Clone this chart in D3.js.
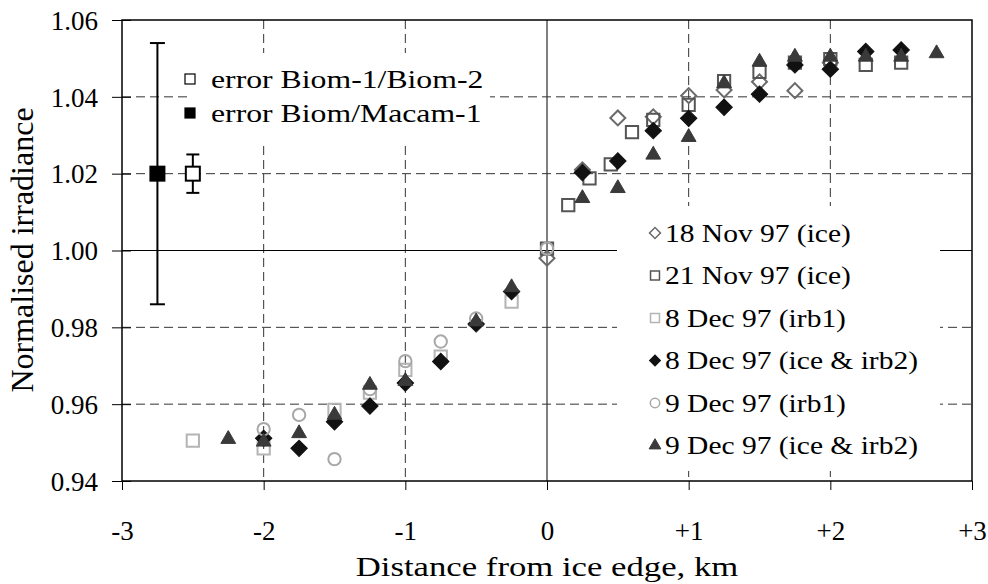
<!DOCTYPE html>
<html>
<head>
<meta charset="utf-8">
<script src="https://cdn.jsdelivr.net/npm/d3@7"></script>
<style>
  body { margin: 0; background: #fff; }
  svg text { font-family: "Liberation Serif", "Times New Roman", serif; fill: #000; }
</style>
</head>
<body>
<div id="chart"></div>
<script>
// ---- data ----
const xTicks = [-3, -2, -1, 0, 1, 2, 3];
const xTickLabels = ['-3', '-2', '-1', '0', '+1', '+2', '+3'];
const yTicks = [0.94, 0.96, 0.98, 1.00, 1.02, 1.04, 1.06];

const nov18X = [0, 0.25, 0.5, 0.75, 1.0, 1.25, 1.5, 1.75, 2.0];
const nov18Y = [0.998, 1.021, 1.0345, 1.0348, 1.0403, 1.0418, 1.0439, 1.0416, 1.0489];

const nov21X = [0, 0.15, 0.3, 0.45, 0.6, 0.75, 1.0, 1.25, 1.5, 1.75, 2.0, 2.25, 2.5];
const nov21Y = [1.0005, 1.0118, 1.0188, 1.0224, 1.0308, 1.034, 1.0379, 1.0441, 1.0465, 1.0489, 1.0498, 1.0483, 1.0489];

const dec8irbX = [-2.5, -2, -1.5, -1.25, -1, -0.75, -0.25];
const dec8irbY = [0.9505, 0.9485, 0.9585, 0.963, 0.9689, 0.9724, 0.9867];

const dec8iceX = [-2, -1.75, -1.5, -1.25, -1, -0.75, -0.5, -0.25, 0.25, 0.5, 0.75, 1.0, 1.25, 1.5, 1.75, 2.0, 2.25, 2.5];
const dec8iceY = [0.9511, 0.9485, 0.9554, 0.9595, 0.9655, 0.9711, 0.9809, 0.9893, 1.0203, 1.0233, 1.0312, 1.0344, 1.0373, 1.0407, 1.0483, 1.0472, 1.0518, 1.0522];

const dec9irbX = [-2, -1.75, -1.5, -1.25, -1, -0.75, -0.5, 0];
const dec9irbY = [0.9535, 0.9572, 0.9457, 0.9639, 0.9712, 0.9763, 0.9823, 1.0005];

const dec9iceX = [-2.25, -2, -1.75, -1.5, -1.25, -1, -0.5, -0.25, 0.25, 0.5, 0.75, 1.0, 1.25, 1.5, 1.75, 2.0, 2.25, 2.5, 2.75];
const dec9iceY = [0.9509, 0.9502, 0.9524, 0.9572, 0.965, 0.966, 0.9815, 0.9904, 1.0136, 1.0162, 1.0249, 1.0295, 1.0435, 1.0491, 1.0504, 1.0504, 1.0504, 1.0504, 1.0513];

const seriesNames = ['18 Nov 97 (ice)', '21 Nov 97 (ice)', '8 Dec 97 (irb1)', '8 Dec 97 (ice & irb2)', '9 Dec 97 (irb1)', '9 Dec 97 (ice & irb2)'];

// error bars: x, centre, half-width
const errNames = ['error Biom-1/Biom-2', 'error Biom/Macam-1'];
const errX = [-2.5, -2.75];
const errY = [1.02, 1.02];
const errHalf = [0.005, 0.034];

// ---- layout ----
const W = 988, H = 584;
const margin = { top: 20, right: 16, bottom: 103, left: 122 };
const width = W - margin.left - margin.right;
const height = H - margin.top - margin.bottom;

const svg = d3.select('#chart').append('svg')
  .attr('width', W).attr('height', H);
const g = svg.append('g').attr('transform', `translate(${margin.left},${margin.top})`);

const x = d3.scaleLinear().domain([-3, 3]).range([0, width]);
const y = d3.scaleLinear().domain([0.94, 1.06]).range([height, 0]);

// the original text is a bit wider than Times, so stretch it sideways
function wideText(sel, tx, ty, sx, size, str, anchor) {
  return sel.append('text')
    .attr('transform', `translate(${tx},${ty}) scale(${sx},1)`)
    .attr('dy', '0.34em')
    .attr('font-size', size)
    .attr('text-anchor', anchor || 'start')
    .text(str);
}

// grid
const grid = g.append('g');
grid.selectAll('line.v').data(xTicks.filter(d => d !== -3 && d !== 3))
  .enter().append('line')
  .attr('x1', d => x(d)).attr('x2', d => x(d))
  .attr('y1', 0).attr('y2', height)
  .attr('stroke', d => d === 0 ? '#000' : '#333')
  .attr('stroke-width', 1)
  .attr('stroke-dasharray', d => d === 0 ? null : '9,5');
grid.selectAll('line.h').data(yTicks.filter(d => d !== 0.94 && d !== 1.06))
  .enter().append('line')
  .attr('x1', 0).attr('x2', width)
  .attr('y1', d => y(d)).attr('y2', d => y(d))
  .attr('stroke', d => Math.abs(d - 1) < 1e-9 ? '#000' : '#333')
  .attr('stroke-width', 1)
  .attr('stroke-dasharray', d => Math.abs(d - 1) < 1e-9 ? null : '9,5');

// white legend backgrounds that hide the grid
g.append('rect').attr('x', 68).attr('y', 33).attr('width', 300).attr('height', 90).attr('fill', '#fff');
g.append('rect').attr('x', 495).attr('y', 186).attr('width', 323).attr('height', 265).attr('fill', '#fff');

// axes
const xAxis = g.append('g').attr('transform', `translate(0,${height})`)
  .call(d3.axisBottom(x).tickValues(xTicks).tickSize(9).tickFormat((d, i) => xTickLabels[i]));
const yAxis = g.append('g')
  .call(d3.axisLeft(y).tickValues(yTicks).tickSize(10).tickFormat(d3.format('.2f')));
[xAxis, yAxis].forEach(a => {
  a.select('.domain').remove();
  a.selectAll('line').attr('stroke', '#000').attr('stroke-width', 1);
  a.selectAll('text').attr('font-size', 27).attr('fill', '#000');
});
yAxis.selectAll('.tick line').attr('x2', -10).attr('x1', 9);
yAxis.selectAll('text').attr('x', -24).attr('dy', '0.34em');
xAxis.selectAll('text').attr('y', 50).attr('dy', '0.34em');

// frame
g.append('rect').attr('width', width).attr('height', height)
  .attr('fill', 'none').attr('stroke', '#000').attr('stroke-width', 1.5);

// axis titles
wideText(svg, margin.left + width / 2, 566, 1.24, 28, 'Distance from ice edge, km', 'middle');
svg.append('text').attr('transform', 'translate(22,250) rotate(-90)').attr('dy', '0.34em')
  .attr('text-anchor', 'middle').attr('font-size', 32).text('Normalised irradiance');

// markers
const sq = d3.symbol().type(d3.symbolSquare);
const styles = [
  { path: sq.size(112)(), rot: 45, fill: 'none', stroke: '#6a6a6a', sw: 2, lpath: sq.size(60)() },
  { path: sq.size(150)(), rot: 0, fill: 'none', stroke: '#555', sw: 2, lpath: sq.size(80)() },
  { path: sq.size(150)(), rot: 0, fill: 'none', stroke: '#b4b4b4', sw: 2, lpath: sq.size(80)() },
  { path: sq.size(135)(), rot: 45, fill: '#111', stroke: '#111', sw: 1, lpath: sq.size(60)() },
  { path: d3.symbol().type(d3.symbolCircle).size(120)(), rot: 0, fill: 'none', stroke: '#a8a8a8', sw: 2, lpath: d3.symbol().type(d3.symbolCircle).size(70)() },
  { path: d3.symbol().type(d3.symbolTriangle).size(95)(), rot: 0, fill: '#3a3a3a', stroke: '#3a3a3a', sw: 1, lpath: d3.symbol().type(d3.symbolTriangle).size(60)() }
];
const seriesX = [nov18X, nov21X, dec8irbX, dec8iceX, dec9irbX, dec9iceX];
const seriesY = [nov18Y, nov21Y, dec8irbY, dec8iceY, dec9irbY, dec9iceY];

seriesNames.forEach((name, si) => {
  const st = styles[si];
  const pts = seriesX[si].map((v, i) => ({ x: v, y: seriesY[si][i] }));
  g.append('g').selectAll('path').data(pts).enter().append('path')
    .attr('d', st.path)
    .attr('transform', d => `translate(${x(d.x)},${y(d.y)}) rotate(${st.rot})`)
    .attr('fill', st.fill).attr('stroke', st.stroke).attr('stroke-width', st.sw);
});

// error bars
errNames.forEach((name, i) => {
  const cx = x(errX[i]);
  const cap = i === 0 ? 6.5 : 7.5;
  const eg = g.append('g').attr('stroke', '#000').attr('stroke-width', 2);
  eg.append('line').attr('x1', cx).attr('x2', cx).attr('y1', y(errY[i] - errHalf[i])).attr('y2', y(errY[i] + errHalf[i]));
  eg.append('line').attr('x1', cx - cap).attr('x2', cx + cap).attr('y1', y(errY[i] - errHalf[i])).attr('y2', y(errY[i] - errHalf[i]));
  eg.append('line').attr('x1', cx - cap).attr('x2', cx + cap).attr('y1', y(errY[i] + errHalf[i])).attr('y2', y(errY[i] + errHalf[i]));
  g.append('rect').attr('x', cx - 7).attr('y', y(errY[i]) - 7).attr('width', 14).attr('height', 14)
    .attr('fill', i === 0 ? '#fff' : '#000').attr('stroke', '#000').attr('stroke-width', 2);
});

// legend: error bars (top left)
const legE = svg.append('g');
errNames.forEach((name, i) => {
  const ly = 79 + i * 34;
  legE.append('rect').attr('x', 185).attr('y', ly - 5).attr('width', 10).attr('height', 10)
    .attr('fill', i === 0 ? '#fff' : '#000').attr('stroke', '#000').attr('stroke-width', 1.2);
  wideText(legE, 211, ly, 1.27, 25, name);
});

// legend: series (right)
const leg = svg.append('g');
seriesNames.forEach((name, i) => {
  const ly = 233 + i * 42.5;
  const st = styles[i];
  leg.append('path').attr('d', st.lpath)
    .attr('transform', `translate(655,${ly}) rotate(${st.rot})`)
    .attr('fill', st.fill).attr('stroke', st.stroke).attr('stroke-width', i === 3 || i === 5 ? 1 : 1.5);
  wideText(leg, 665, ly, 1.18, 25, name);
});
</script>
</body>
</html>
